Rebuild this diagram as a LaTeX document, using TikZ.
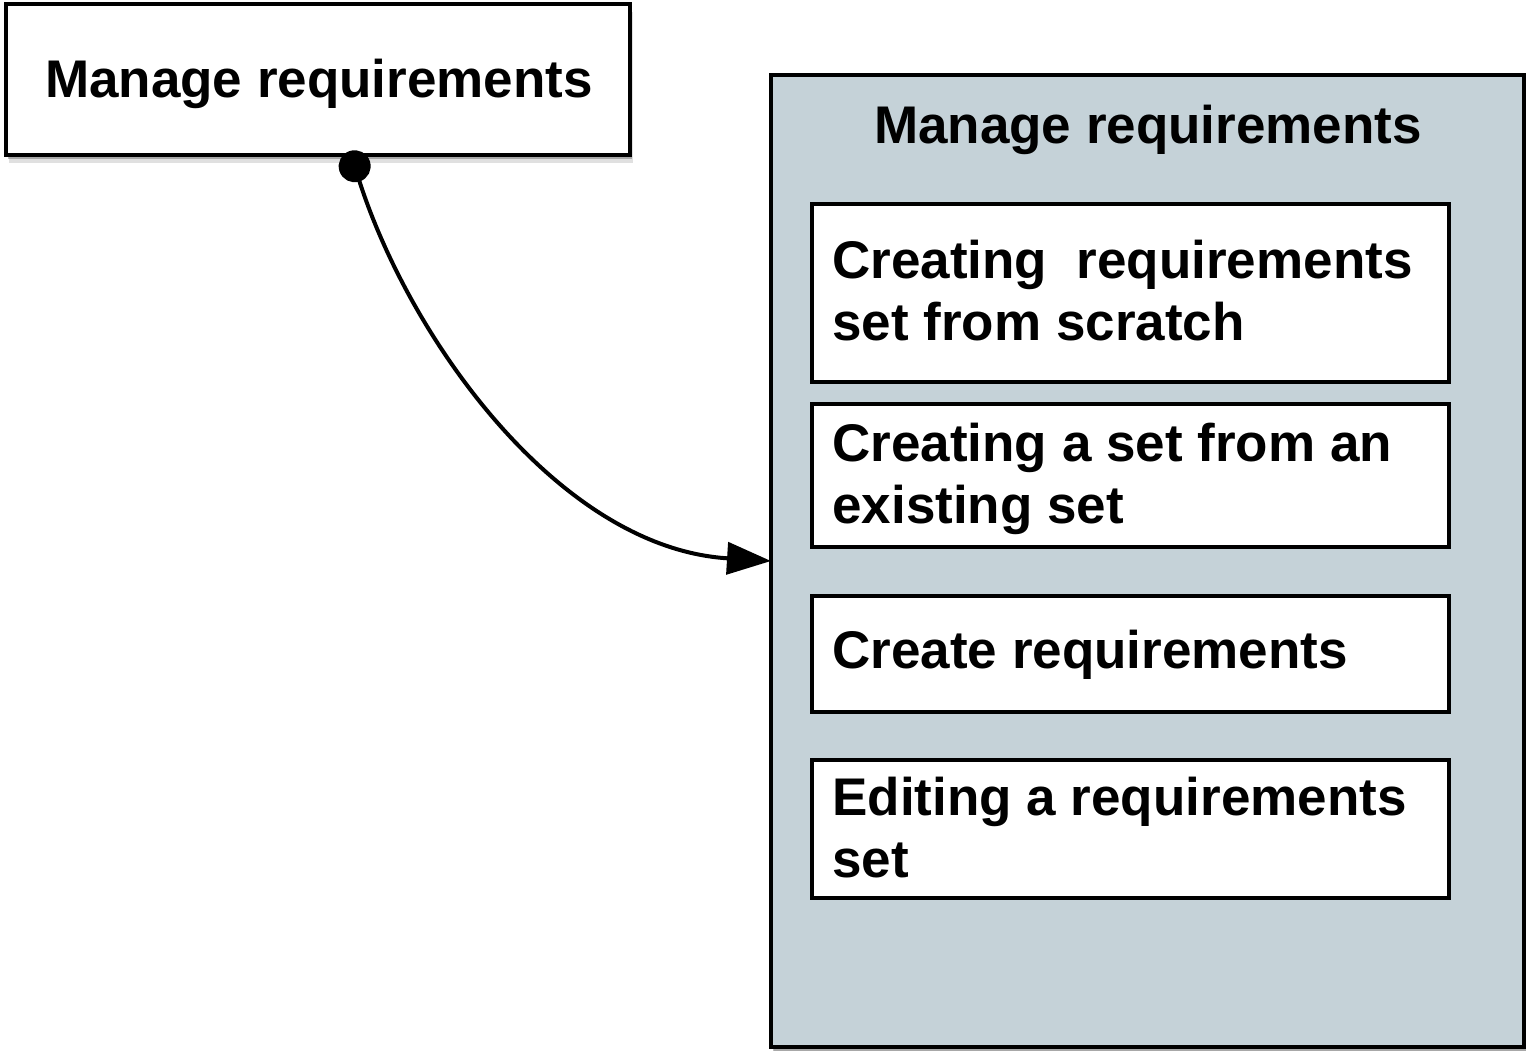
\documentclass[tikz,border=0pt]{standalone}
\usepackage{fontspec}
\setmainfont{Liberation Sans}
\usetikzlibrary{shadows,arrows.meta,calc}
\definecolor{contfill}{HTML}{C5D2D8}
\begin{document}
\begin{tikzpicture}[x=0.5pt,y=-0.5pt,
  box/.style={draw=black, line width=2.2pt, fill=white, rectangle, inner sep=0pt, outer sep=0pt, anchor=north west},
  softshadow/.style={general shadow={shadow xshift=1.5pt, shadow yshift=-4pt, fill=black, opacity=0.12},
                     general shadow={shadow xshift=0.8pt, shadow yshift=-2pt, fill=black, opacity=0.25}},
  lbl/.style={font=\fontsize{26.5}{31}\selectfont\bfseries, inner sep=0pt, align=left},
  conn/.style={line width=2pt, {Circle[length=16pt]}-{Triangle[length=22pt,width=16pt]}}]
\useasboundingbox (0,0) rectangle (1526,1050);
\node[box, softshadow, minimum width=312pt, minimum height=75.5pt] (lb) at (6,4) {};
\node[lbl, anchor=base] (lbt) at (319,97) {Manage requirements};
\node[box, softshadow, fill=contfill, minimum width=376.5pt, minimum height=486pt] (cont) at (771,75) {};
\node[lbl, anchor=base] (contt) at (1148,143) {Manage requirements};
\node[box, minimum width=318.5pt, minimum height=89pt] (b1) at (812,204) {};
\node[lbl, anchor=base west] (b1t) at (832,340) {Creating~ requirements\\set from scratch};
\node[box, minimum width=318.5pt, minimum height=71.5pt] (b2) at (812,404) {};
\node[lbl, anchor=base west] (b2t) at (832,523) {Creating a set from an\\existing set};
\node[box, minimum width=318.5pt, minimum height=58pt] (b3) at (812,596) {};
\node[lbl, anchor=base west] (b3t) at (832,668) {Create requirements};
\node[box, minimum width=318.5pt, minimum height=69pt] (b4) at (812,760) {};
\node[lbl, anchor=base west] (b4t) at (832,877) {Editing a requirements\\set};
\coordinate (s) at ($(lb.south west)!0.551!(lb.south east)$);
\draw[conn] ([yshift=2pt]s) .. controls (410,340) and (560,548) .. (cont.west);
\end{tikzpicture}
\end{document}
